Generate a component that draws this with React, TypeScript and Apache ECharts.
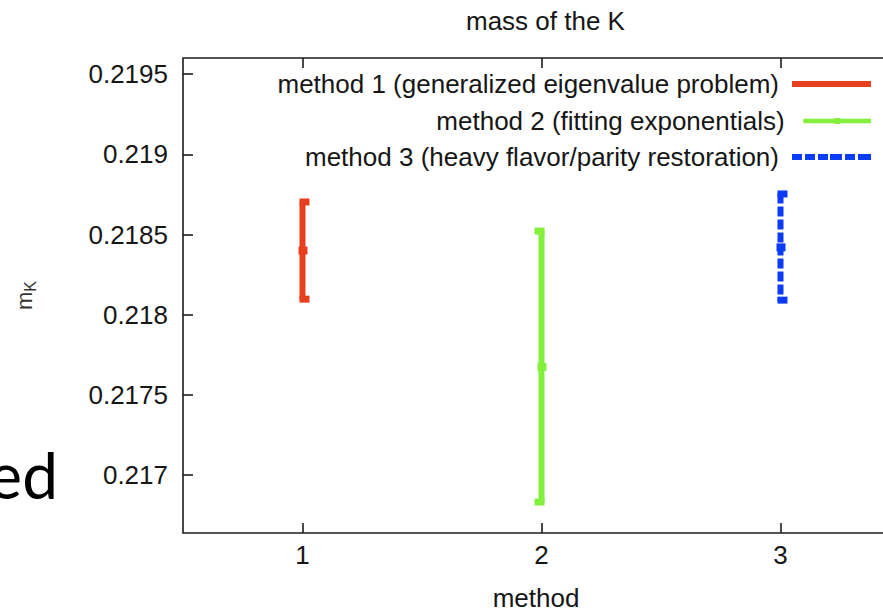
import React, { useEffect, useRef } from "react";
import * as echarts from "echarts";

const chartTitle = "mass of the K";
const methodNames = [
  "method 1 (generalized eigenvalue problem)",
  "method 2 (fitting exponentials)",
  "method 3 (heavy flavor/parity restoration)",
];
const methodX = [1, 2, 3];
const centers = [0.2184, 0.217675, 0.21842];
const lows = [0.218094, 0.21683, 0.218088];
const highs = [0.218706, 0.218525, 0.218756];
const colors = ["#e8401f", "#82f03c", "#0b3bf7"];
const xTicks = [1, 2, 3];
const yTicks = [0.217, 0.2175, 0.218, 0.2185, 0.219, 0.2195];

const FONT = "Liberation Sans";
const TXT = "#161616";
const FS = 26;

export default function App() {
  const ref = useRef<HTMLDivElement>(null);
  useEffect(() => {
    if (!ref.current) return;
    const chart = echarts.init(ref.current, null, { renderer: "svg" });

    const capSide = [1, -1, 1];
    const dashes = [null, null, [10, 3]];
    const legendTops = [69, 106, 142];
    const legendIcons = [
      "rect",
      "path://M0,1h79v5h-79z M36,0h7v7h-7z",
      "path://M0,0h10v6h-10z M13,0h10v6h-10z M26,0h10v6h-10z M38,0h12v6h-12z M53,0h10v6h-10z M66,0h13v6h-13z",
    ];

    const series = methodNames.map((name, i) => ({
      type: "custom",
      name,
      xAxisIndex: 0,
      yAxisIndex: 0,
      clip: false,
      itemStyle: { color: colors[i] },
      encode: { x: 0, y: [1, 2, 3] },
      data: [[methodX[i], centers[i], lows[i], highs[i]]],
      renderItem: (params: any, api: any) => {
        const x = api.value(0);
        const pc = api.coord([x, api.value(1)]);
        const pl = api.coord([x, api.value(2)]);
        const ph = api.coord([x, api.value(3)]);
        const color = colors[i];
        const side = capSide[i];
        const capW = 10;
        const capX = side > 0 ? pc[0] - 3 : pc[0] + 3 - capW;
        const lineStyle: any = { stroke: color, lineWidth: 6, lineCap: "butt" };
        if (dashes[i]) lineStyle.lineDash = dashes[i];
        return {
          type: "group",
          children: [
            {
              type: "line",
              shape: { x1: pc[0], y1: ph[1], x2: pc[0], y2: pl[1] },
              style: lineStyle,
            },
            { type: "rect", shape: { x: capX, y: ph[1] - 3, width: capW, height: 7 }, style: { fill: color } },
            { type: "rect", shape: { x: capX, y: pl[1] - 4, width: capW, height: 7 }, style: { fill: color } },
            { type: "rect", shape: { x: pc[0] - 4, y: pc[1] - 4, width: 9, height: 8 }, style: { fill: color } },
          ],
        };
      },
    }));

    const legends = methodNames.map((name, i) => ({
      data: [{ name, icon: legendIcons[i] }],
      right: 12,
      top: legendTops[i],
      orient: "vertical",
      align: "right",
      padding: 0,
      itemWidth: 79,
      itemHeight: 6,
      selectedMode: false,
      textStyle: {
        fontFamily: FONT,
        fontSize: FS,
        color: TXT,
        lineHeight: 30,
        padding: [0, 8, 0, 0],
      },
    }));

    chart.setOption({
      animation: false,
      backgroundColor: "#ffffff",
      title: {
        text: chartTitle,
        left: 461,
        top: 3,
        textStyle: { fontFamily: FONT, fontSize: FS, fontWeight: "normal", color: TXT },
      },
      legend: legends,
      grid: {
        left: 183,
        top: 58,
        right: -6,
        bottom: 80,
        outerBoundsMode: "none",
        containLabel: false,
        show: true,
        borderColor: "#1c1c1c",
        borderWidth: 1.6,
        backgroundColor: "transparent",
      },
      xAxis: [
        {
          type: "value",
          position: "bottom",
          min: 0.5,
          max: 3.454,
          name: "method",
          nameLocation: "middle",
          nameGap: 52,
          nameTextStyle: { fontFamily: FONT, fontSize: FS, color: TXT },
          axisLine: { show: false },
          splitLine: { show: false },
          axisTick: {
            show: true,
            inside: true,
            length: 10,
            customValues: xTicks,
            lineStyle: { color: "#1c1c1c", width: 1.6 },
          },
          axisLabel: {
            customValues: xTicks,
            fontFamily: FONT,
            fontSize: FS,
            color: TXT,
            margin: 9,
            formatter: (v: number) => String(v),
          },
        },
        {
          type: "value",
          position: "top",
          min: 0.5,
          max: 3.454,
          axisLine: { show: false },
          splitLine: { show: false },
          axisTick: {
            show: true,
            inside: true,
            length: 10,
            customValues: xTicks,
            lineStyle: { color: "#1c1c1c", width: 1.6 },
          },
          axisLabel: { show: false },
        },
      ],
      yAxis: {
        type: "value",
        min: 0.21664,
        max: 0.2196,
        name: "{m|m}{k|K}",
        nameLocation: "middle",
        nameGap: 145,
        nameRotate: 90,
        nameTextStyle: {
          color: "#333",
          rich: {
            m: { fontFamily: FONT, fontSize: 22, color: "#333" },
            k: { fontFamily: FONT, fontSize: 16, color: "#333", padding: [12, 0, 0, 0] },
          },
        },
        axisLine: { show: false },
        splitLine: { show: false },
        axisTick: {
          show: true,
          inside: true,
          length: 10,
          customValues: yTicks,
          lineStyle: { color: "#1c1c1c", width: 1.6 },
        },
        axisLabel: {
          customValues: yTicks,
          fontFamily: FONT,
          fontSize: FS,
          color: TXT,
          margin: 15,
          formatter: (v: number) => String(v),
        },
      },
      graphic: [
        {
          type: "text",
          x: 58,
          y: 474,
          style: {
            text: "ed",
            fontFamily: "Lato",
            fontSize: 64,
            fill: "#000",
            textAlign: "right",
            textVerticalAlign: "middle",
          },
        },
      ],
      series,
    });
    return () => chart.dispose();
  }, []);
  return (
    <div
      ref={ref}
      style={{ position: "absolute", left: 0, top: 0, width: 883, height: 613, overflow: "hidden" }}
    />
  );
}
